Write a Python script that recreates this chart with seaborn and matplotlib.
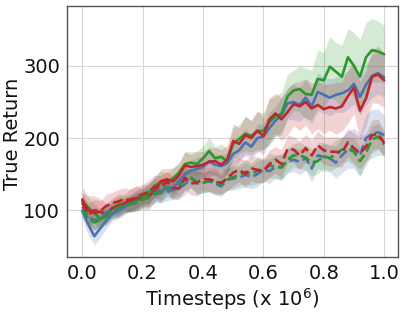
import numpy as np
import pandas as pd
import matplotlib
matplotlib.use("Agg")
import matplotlib.pyplot as plt
import seaborn as sns

# Timesteps (x 10^6)
timesteps = [round(0.02 * i, 2) for i in range(51)]

# Solid-line runs (mean)
blue_solid = [99, 80, 64, 75, 86, 95, 100, 104, 110, 115, 122, 122, 131, 125, 133, 130, 140, 150, 155, 157,
              160, 168, 163, 161, 165, 178, 183, 194, 188, 200, 202, 214, 224, 232, 248, 250, 246, 256, 244, 264,
              260, 256, 260, 262, 266, 275, 257, 274, 286, 290, 284]
green_solid = [112, 104, 96, 88, 94, 103, 107, 109, 110, 113, 118, 123, 134, 138, 138, 144, 152, 164, 166, 164,
               172, 182, 172, 174, 168, 192, 199, 206, 203, 210, 210, 222, 230, 234, 258, 266, 268, 261, 260, 282,
               280, 299, 292, 285, 312, 300, 285, 312, 322, 320, 316]
red_solid = [115, 100, 96, 98, 94, 103, 106, 109, 115, 117, 115, 119, 127, 140, 143, 140, 148, 162, 160, 161,
             163, 167, 168, 163, 170, 196, 192, 204, 200, 210, 203, 226, 234, 226, 236, 247, 244, 250, 241, 246,
             240, 243, 241, 244, 258, 270, 238, 255, 285, 288, 280]

# Dashed-line runs (mean)
blue_dashed = [105, 91, 86, 90, 97, 101, 103, 106, 108, 110, 115, 117, 122, 124, 125, 128, 130, 136, 144, 137,
               138, 140, 137, 133, 142, 144, 145, 149, 146, 150, 156, 154, 160, 160, 168, 170, 167, 172, 158, 176,
               174, 172, 166, 176, 184, 186, 176, 200, 206, 208, 204]
green_dashed = [101, 88, 83, 86, 92, 99, 104, 107, 109, 112, 116, 118, 124, 126, 130, 130, 134, 142, 145, 139,
                138, 141, 140, 136, 143, 146, 149, 153, 150, 155, 154, 162, 160, 159, 170, 176, 176, 173, 166, 168,
                175, 172, 178, 184, 185, 181, 168, 180, 198, 202, 191]
red_dashed = [110, 94, 100, 99, 106, 110, 112, 116, 113, 118, 122, 125, 133, 131, 140, 131, 130, 145, 137, 138,
              143, 143, 140, 138, 144, 152, 156, 150, 158, 156, 155, 164, 170, 164, 185, 184, 176, 186, 176, 190,
              183, 181, 181, 180, 194, 186, 179, 188, 204, 206, 193]

# Shaded band half-widths
blue_solid_sd = [12, 14, 12, 13, 11, 10, 12, 10, 11, 13, 12, 14, 13, 15, 12, 14, 13, 15, 14, 16,
                 15, 17, 14, 16, 15, 18, 16, 19, 17, 20, 18, 22, 20, 24, 22, 25, 23, 26, 24, 27,
                 25, 26, 24, 27, 26, 28, 25, 28, 30, 29, 28]
green_solid_sd = [12, 15, 13, 14, 12, 11, 13, 11, 12, 14, 13, 15, 14, 16, 13, 15, 14, 17, 15, 18,
                  17, 19, 16, 18, 17, 22, 20, 24, 22, 26, 25, 32, 28, 30, 30, 28, 32, 36, 34, 40,
                  38, 42, 40, 44, 40, 46, 52, 48, 44, 42, 40]
red_solid_sd = [16, 20, 24, 18, 15, 14, 16, 13, 15, 17, 14, 18, 16, 17, 15, 18, 16, 19, 17, 20,
                18, 20, 19, 21, 20, 24, 22, 26, 24, 28, 26, 30, 28, 30, 32, 30, 34, 32, 35, 33,
                34, 32, 36, 34, 38, 36, 40, 38, 36, 40, 38]
blue_dashed_sd = [10, 12, 11, 12, 10, 11, 12, 10, 11, 12, 11, 13, 12, 14, 12, 13, 14, 15, 13, 16,
                  14, 15, 16, 14, 15, 16, 15, 17, 16, 18, 15, 17, 16, 18, 17, 16, 18, 17, 19, 18,
                  20, 19, 22, 24, 26, 28, 30, 32, 34, 32, 28]
green_dashed_sd = [10, 12, 11, 12, 10, 11, 12, 10, 11, 12, 11, 13, 12, 14, 12, 13, 14, 15, 13, 16,
                   14, 15, 16, 14, 15, 16, 15, 17, 16, 18, 15, 17, 16, 18, 17, 16, 18, 17, 19, 18,
                   17, 18, 19, 18, 17, 19, 20, 18, 19, 18, 17]
red_dashed_sd = [14, 16, 15, 14, 16, 15, 17, 15, 16, 15, 14, 16, 15, 17, 14, 16, 15, 17, 16, 18,
                 16, 17, 18, 16, 17, 18, 16, 19, 17, 18, 17, 19, 18, 20, 19, 18, 20, 19, 21, 20,
                 19, 20, 21, 20, 19, 21, 22, 20, 21, 20, 19]

BLUE = "#4a72b4"
GREEN = "#2a982a"
RED = "#c0262c"

series = [
    ("blue_solid", blue_solid, blue_solid_sd, BLUE, "-"),
    ("green_solid", green_solid, green_solid_sd, GREEN, "-"),
    ("red_solid", red_solid, red_solid_sd, RED, "-"),
    ("blue_dashed", blue_dashed, blue_dashed_sd, BLUE, "--"),
    ("green_dashed", green_dashed, green_dashed_sd, GREEN, "--"),
    ("red_dashed", red_dashed, red_dashed_sd, RED, "--"),
]

sns.set_style("whitegrid", {"axes.edgecolor": "#555555", "grid.color": "#d6d6d6"})
plt.rcParams["font.family"] = ["DejaVu Sans"]

fig = plt.figure(figsize=(4.07, 3.17), dpi=100)
ax = fig.add_axes([0.165, 0.189, 0.813, 0.792])

x = np.array(timesteps)
for name, mean, sd, color, ls in series:
    m = np.array(mean, dtype=float)
    s = np.array(sd, dtype=float)
    ax.fill_between(x, m - s, m + s, color=color, alpha=0.2, linewidth=0)
for name, mean, sd, color, ls in series:
    df = pd.DataFrame({"t": x, "ret": mean})
    sns.lineplot(data=df, x="t", y="ret", ax=ax, color=color, linestyle=ls, linewidth=1.9)

ax.set_xlim(-0.05, 1.046)
ax.set_ylim(35, 383)
ax.set_xticks([0.0, 0.2, 0.4, 0.6, 0.8, 1.0])
ax.set_xticklabels(["0.0", "0.2", "0.4", "0.6", "0.8", "1.0"])
ax.set_yticks([100, 200, 300])
ax.tick_params(labelsize=14, length=0, pad=5, labelcolor="#111111")
ax.set_xlabel("Timesteps (x $10^6$)", fontsize=14, labelpad=2, color="#111111")
ax.set_ylabel("True Return", fontsize=14, color="#111111")
ax.yaxis.set_label_coords(-0.135, 0.49)
for sp in ax.spines.values():
    sp.set_linewidth(1.0)
    sp.set_color("#555555")

fig.savefig("out.png", dpi=100)
